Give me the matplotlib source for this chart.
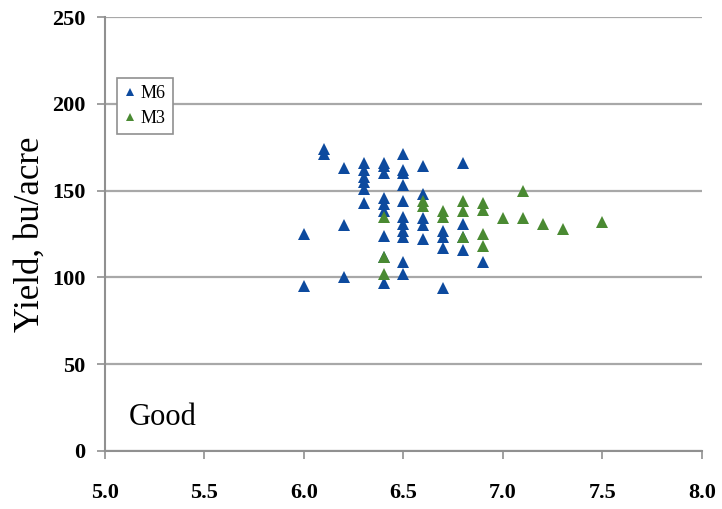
import matplotlib
matplotlib.use("Agg")
import matplotlib.pyplot as plt

# pH vs yield, "Good" drainage class
m6_ph = [6.0, 6.0,
         6.1, 6.1,
         6.2, 6.2, 6.2,
         6.3, 6.3, 6.3, 6.3, 6.3, 6.3,
         6.4, 6.4, 6.4, 6.4, 6.4, 6.4, 6.4, 6.4, 6.4,
         6.5, 6.5, 6.5, 6.5, 6.5, 6.5, 6.5, 6.5, 6.5, 6.5, 6.5,
         6.6, 6.6, 6.6, 6.6, 6.6,
         6.7, 6.7, 6.7, 6.7,
         6.8, 6.8, 6.8, 6.8,
         6.9]
m6_yield = [125, 95,
            174, 171,
            163, 130, 100,
            166, 162, 158, 155, 151, 143,
            166, 164, 160, 146, 142, 138, 124, 112, 97,
            171, 162, 160, 153, 144, 135, 131, 127, 123, 109, 102,
            164, 148, 134, 130, 122,
            127, 123, 117, 94,
            166, 131, 123, 116,
            109]

m3_ph = [6.4, 6.4, 6.4,
         6.6, 6.6,
         6.7, 6.7,
         6.8, 6.8, 6.8,
         6.9, 6.9, 6.9, 6.9,
         7.0, 7.1, 7.1, 7.2, 7.3, 7.5]
m3_yield = [135, 112, 102,
            144, 141,
            138, 135,
            144, 138, 123,
            143, 139, 125, 118,
            134, 150, 134, 131, 128, 132]

x_ticks = [5.0, 5.5, 6.0, 6.5, 7.0, 7.5, 8.0]
y_ticks = [0, 50, 100, 150, 200, 250]

blue = '#0d4a9e'
green = '#4a8a32'
serif = ['Liberation Serif', 'DejaVu Serif']

fig = plt.figure(figsize=(7.22, 5.09), dpi=100)
ax = fig.add_axes([0.1454, 0.114, 0.8269, 0.8526])

ax.plot(m6_ph, m6_yield, linestyle='none', marker='^', markersize=8.5,
        color=blue, markeredgewidth=0, label='M6', zorder=3)
ax.plot(m3_ph, m3_yield, linestyle='none', marker='^', markersize=8.5,
        color=green, markeredgewidth=0, label='M3', zorder=3)

ax.set_xlim(5.0, 8.0)
ax.set_ylim(0, 250)
ax.set_xticks(x_ticks)
ax.set_yticks(y_ticks)
ax.set_xticklabels([f'{v:.1f}' for v in x_ticks], family=serif,
                   fontweight='bold', fontsize=16)
ax.set_yticklabels([str(v) for v in y_ticks], family=serif,
                   fontweight='bold', fontsize=16)
ax.tick_params(axis='x', direction='out', length=6, width=1.2,
               color='#909090', pad=17)
ax.tick_params(axis='y', direction='out', length=6, width=1.2,
               color='#909090', pad=8)

ax.yaxis.grid(True, color='#a8a8a8', linewidth=1.6)
ax.set_axisbelow(True)
for side in ['top', 'right']:
    ax.spines[side].set_visible(False)
for side in ['left', 'bottom']:
    ax.spines[side].set_color('#909090')
    ax.spines[side].set_linewidth(1.5)

ax.set_ylabel('Yield, bu/acre', family=serif, fontsize=25, labelpad=4)
ax.text(5.12, 15, 'Good', family=serif, fontsize=22, va='baseline')

leg = ax.legend(loc='upper left', bbox_to_anchor=(0.02, 0.86),
                prop={'family': serif, 'size': 13}, markerscale=0.6,
                handlelength=0.6, handletextpad=0.3, borderpad=0.4,
                labelspacing=0.45, fancybox=False, framealpha=1,
                borderaxespad=0)
leg.get_frame().set_edgecolor('#909090')
leg.get_frame().set_linewidth(1.2)

fig.savefig('out.png', dpi=100)
